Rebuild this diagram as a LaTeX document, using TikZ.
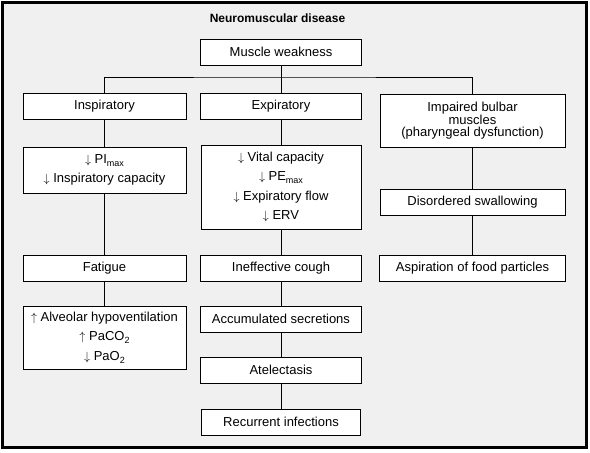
\documentclass[tikz,border=0pt]{standalone}
\usepackage{fontspec}
\setmainfont{Liberation Sans}
\newcommand{\lowtxt}[1]{\raisebox{-0.45ex}{\fontsize{9}{9}\selectfont #1}}
\newcommand{\dnarr}{$\downarrow$}
\newcommand{\uparr}{$\uparrow$}

\begin{document}
\begin{tikzpicture}[
            x=1pt, y=-1pt,
            box/.style={draw, fill=white, line width=0.8pt, minimum height=26pt, align=center,
                        inner sep=1pt, font=\fontsize{13}{19.5}\selectfont},
            link/.style={line width=0.8pt}
        ]
        \useasboundingbox (0,0) rectangle (590,453);
        \draw[line width=3pt, fill=black!6] (2.5,2.5) rectangle (586.5,447.5);

        \node[font=\bfseries\fontsize{12}{14}\selectfont] (title) at (277.5,18) {Neuromuscular disease};

        \node[box, minimum width=161pt] (muscle) at (281,52) {Muscle weakness};
        \coordinate (bus) at (281,77);

        % inspiratory column
        \node[box, minimum width=163pt] (insp) at (104.5,106.5) {Inspiratory};
        \node[box, minimum width=163pt, minimum height=46pt] (pimax) at (104.5,170)
            {\dnarr{} PI\lowtxt{max}\\ \dnarr{} Inspiratory capacity};
        \node[box, minimum width=163pt] (fatigue) at (104.5,268.5) {Fatigue};
        \node[box, minimum width=163pt, minimum height=63pt] (alveolar) at (104.5,337.5)
            {\uparr{} Alveolar hypoventilation\\ \uparr{} PaCO\lowtxt{2}\\ \dnarr{} PaO\lowtxt{2}};

        % expiratory column
        \node[box, minimum width=161pt] (exp) at (281,106.5) {Expiratory};
        \node[box, minimum width=160pt, minimum height=84pt] (vital) at (281,187)
            {\dnarr{} Vital capacity\\ \dnarr{} PE\lowtxt{max}\\ \dnarr{} Expiratory flow\\ \dnarr{} ERV};
        \node[box, minimum width=161pt] (cough) at (281,268.5) {Ineffective cough};
        \node[box, minimum width=161pt] (secret) at (281,319) {Accumulated secretions};
        \node[box, minimum width=161pt] (atel) at (281,370) {Atelectasis};
        \node[box, minimum width=159pt] (infect) at (281,422) {Recurrent infections};

        % bulbar column
        \node[box, minimum width=185pt, minimum height=53pt,
              font=\fontsize{13}{11.5}\selectfont] (bulbar) at (472.5,120.5)
            {Impaired bulbar\\ muscles\\ (pharyngeal dysfunction)};
        \node[box, minimum width=185pt] (swallow) at (472.5,202) {Disordered swallowing};
        \node[box, minimum width=186pt] (aspir) at (472.5,268) {Aspiration of food particles};

        \draw[link] (muscle) -- (exp);
        \draw[link] (insp.north) |- (bus) -| (bulbar.north);
        \draw[link] (insp) -- (pimax) -- (fatigue) -- (alveolar);
        \draw[link] (exp) -- (vital) -- (cough) -- (secret) -- (atel) -- (infect);
        \draw[link] (bulbar) -- (swallow) -- (aspir);
    \end{tikzpicture}
\end{document}
